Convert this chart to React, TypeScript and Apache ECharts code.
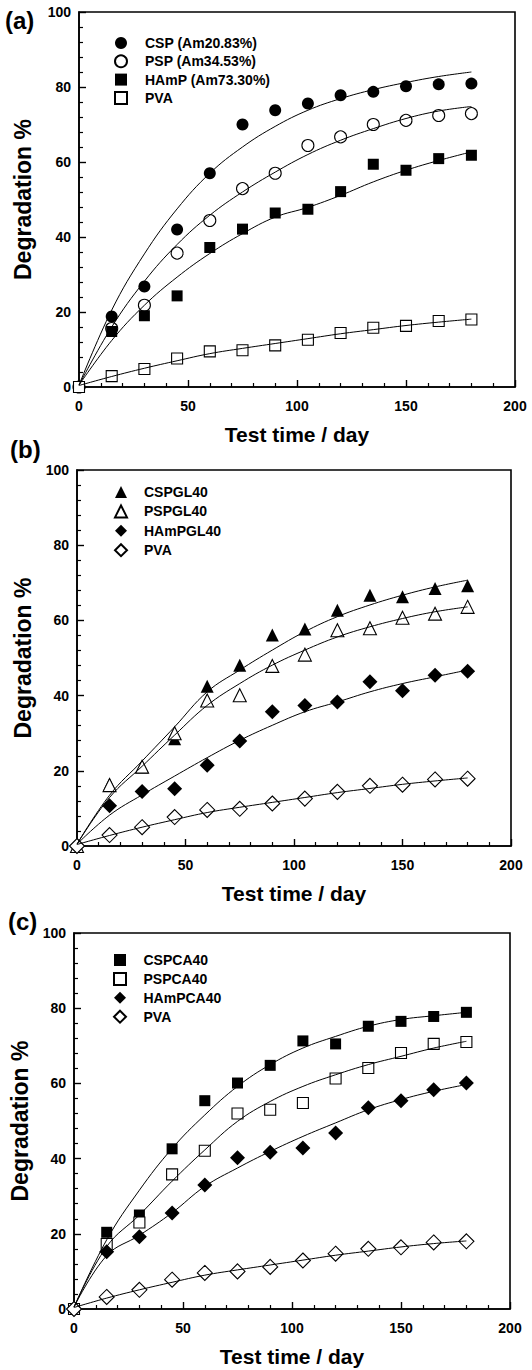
import React, { useEffect, useRef } from 'react';
import * as echarts from 'echarts';

const DAYS = [0, 15, 30, 45, 60, 75, 90, 105, 120, 135, 150, 165, 180];
const X_LABEL = 'Test time / day';
const Y_LABEL = 'Degradation %';
const PANEL_TAGS = ['(a)', '(b)', '(c)'];

// Panel (a)
const A_NAMES = ['CSP (Am20.83%)', 'PSP (Am34.53%)', 'HAmP (Am73.30%)', 'PVA'];
const A_CSP = [0, 18.8, 26.8, 42.0, 57.0, 70.0, 73.8, 75.6, 77.8, 78.7, 80.2, 80.7, 80.9];
const A_PSP = [0, 15.6, 21.8, 35.7, 44.4, 52.9, 57.0, 64.4, 66.7, 70.0, 71.1, 72.4, 72.9];
const A_HAMP = [0, 14.8, 19.0, 24.3, 37.2, 42.1, 46.4, 47.4, 52.1, 59.4, 57.8, 60.9, 61.8];
const A_PVA = [0, 2.9, 4.8, 7.6, 9.5, 9.8, 11.1, 12.6, 14.4, 15.8, 16.3, 17.6, 18.0];
const A_CSP_FIT = [0.5, 20.5, 35.5, 47.5, 57.0, 64.0, 69.5, 73.8, 76.9, 79.3, 81.2, 82.8, 84.0];
const A_PSP_FIT = [0.5, 16.0, 28.2, 38.0, 45.8, 52.0, 57.3, 62.0, 65.8, 68.9, 71.6, 73.6, 74.8];
const A_HAMP_FIT = [0.5, 12.4, 21.8, 29.3, 35.6, 40.9, 45.3, 47.9, 51.1, 54.7, 57.8, 60.4, 62.7];
const A_PVA_FIT = [0.4, 2.8, 5.0, 7.0, 8.9, 10.3, 11.6, 12.9, 14.2, 15.3, 16.4, 17.3, 18.1];

// Panel (b)
const B_NAMES = ['CSPGL40', 'PSPGL40', 'HAmPGL40', 'PVA'];
const B_CSPGL = [0, 16.4, 21.0, 28.5, 42.5, 48.1, 56.1, 57.7, 62.7, 66.7, 66.3, 68.5, 69.2];
const B_PSPGL = [0, 16.2, 21.1, 30.0, 38.7, 40.1, 47.9, 50.9, 57.4, 57.9, 60.7, 61.8, 63.6];
const B_HAMPGL = [0, 10.7, 14.5, 15.2, 21.5, 27.9, 35.7, 37.4, 38.3, 43.7, 41.3, 45.4, 46.5];
const B_PVA = [0, 2.9, 5.0, 7.7, 9.6, 9.9, 11.3, 12.6, 14.4, 16.0, 16.3, 17.7, 17.9];
const B_CSPGL_FIT = [0.5, 13.5, 22.6, 31.7, 41.0, 46.8, 52.1, 57.0, 61.0, 64.1, 66.7, 68.9, 70.7];
const B_PSPGL_FIT = [0.5, 12.9, 21.2, 29.5, 37.4, 43.2, 48.1, 52.1, 55.6, 58.3, 60.5, 62.3, 63.6];
const B_HAMPGL_FIT = [0.5, 8.2, 13.6, 18.6, 23.5, 28.1, 32.1, 35.7, 38.3, 41.0, 43.2, 45.0, 46.8];
const B_PVA_FIT = [0.4, 2.8, 5.0, 7.0, 8.9, 10.3, 11.6, 12.9, 14.2, 15.3, 16.4, 17.3, 18.1];

// Panel (c)
const C_NAMES = ['CSPCA40', 'PSPCA40', 'HAmPCA40', 'PVA'];
const C_CSPCA = [0, 20.4, 25.0, 42.6, 55.4, 60.1, 64.8, 71.3, 70.5, 75.2, 76.5, 77.8, 78.9];
const C_PSPCA = [0, 17.3, 23.0, 35.8, 42.1, 52.0, 53.0, 54.8, 61.3, 64.1, 68.1, 70.5, 71.0];
const C_HAMPCA = [0, 15.2, 19.2, 25.5, 33.0, 40.2, 41.7, 42.8, 46.8, 53.5, 55.4, 58.3, 60.1];
const C_PVA = [0, 3.2, 5.1, 7.8, 9.6, 10.0, 11.2, 12.9, 14.7, 16.0, 16.4, 17.7, 18.0];
const C_CSPCA_FIT = [0.5, 18.4, 31.6, 42.7, 51.6, 59.2, 65.0, 69.4, 72.5, 75.2, 77.0, 78.0, 78.9];
const C_PSPCA_FIT = [0.5, 16.6, 25.0, 34.0, 42.3, 49.9, 55.2, 59.2, 62.3, 65.0, 67.2, 69.4, 71.2];
const C_HAMPCA_FIT = [0.5, 14.2, 19.6, 25.6, 32.6, 37.5, 41.9, 45.9, 49.5, 53.0, 55.7, 57.9, 59.7];
const C_PVA_FIT = [0.4, 2.9, 5.1, 7.1, 9.0, 10.4, 11.7, 13.0, 14.3, 15.4, 16.5, 17.4, 18.1];

const FONT = '"Liberation Sans", Arial, Helvetica, sans-serif';

type Marker = { symbol: string; size: number; filled: boolean };
const M_CIRCLE_F: Marker = { symbol: 'circle', size: 12, filled: true };
const M_CIRCLE_O: Marker = { symbol: 'circle', size: 12, filled: false };
const M_RECT_F: Marker = { symbol: 'rect', size: 11, filled: true };
const M_RECT_O: Marker = { symbol: 'rect', size: 11, filled: false };
const M_TRI_F: Marker = { symbol: 'triangle', size: 13, filled: true };
const M_TRI_O: Marker = { symbol: 'triangle', size: 13, filled: false };
const M_DIA_F: Marker = { symbol: 'diamond', size: 15, filled: true };
const M_DIA_O: Marker = { symbol: 'diamond', size: 15, filled: false };

const PANELS = [
  {
    names: A_NAMES,
    values: [A_CSP, A_PSP, A_HAMP, A_PVA],
    fits: [A_CSP_FIT, A_PSP_FIT, A_HAMP_FIT, A_PVA_FIT],
    markers: [M_CIRCLE_F, M_CIRCLE_O, M_RECT_F, M_RECT_O],
    grid: { left: 79, right: 17, top: 12, height: 375 },
    legend: { left: 109, top: 31, gap: 4.3, pad: 13 },
    tag: { x: 5, y: 8 },
    yNameGap: 45,
  },
  {
    names: B_NAMES,
    values: [B_CSPGL, B_PSPGL, B_HAMPGL, B_PVA],
    fits: [B_CSPGL_FIT, B_PSPGL_FIT, B_HAMPGL_FIT, B_PVA_FIT],
    markers: [M_TRI_F, M_TRI_O, M_DIA_F, M_DIA_O],
    grid: { left: 77, right: 21, top: 470, height: 376 },
    legend: { left: 109, top: 480, gap: 5.4, pad: 12 },
    tag: { x: 10, y: 437 },
    yNameGap: 42,
  },
  {
    names: C_NAMES,
    values: [C_CSPCA, C_PSPCA, C_HAMPCA, C_PVA],
    fits: [C_CSPCA_FIT, C_PSPCA_FIT, C_HAMPCA_FIT, C_PVA_FIT],
    markers: [M_RECT_F, M_RECT_O, M_DIA_F, M_DIA_O],
    grid: { left: 74, right: 22, top: 933, height: 376 },
    legend: { left: 108, top: 948, gap: 4.9, pad: 12.5 },
    tag: { x: 8, y: 909 },
    yNameGap: 42,
  },
];

function buildOption() {
  const grids: any[] = [];
  const xAxes: any[] = [];
  const yAxes: any[] = [];
  const legends: any[] = [];
  const series: any[] = [];
  const graphics: any[] = [];

  PANELS.forEach((p, gi) => {
    grids.push({
      ...p.grid,
      show: true,
      borderColor: '#000',
      borderWidth: 1.6,
      backgroundColor: 'transparent',
    });
    const axisCommon = {
      gridIndex: gi,
      type: 'value',
      axisLine: { show: true, onZero: false, lineStyle: { color: '#000', width: 1.6 } },
      axisTick: { show: true, inside: true, length: 7, lineStyle: { color: '#000', width: 1.4 } },
      minorTick: { show: true, splitNumber: 5, length: 4, lineStyle: { color: '#000', width: 1.2 } },
      splitLine: { show: false },
      axisLabel: { color: '#000', fontFamily: FONT, fontWeight: 'bold', fontSize: 14 },
    };
    xAxes.push({
      ...axisCommon,
      min: 0,
      max: 200,
      interval: 50,
      name: X_LABEL,
      nameLocation: 'middle',
      nameGap: 37,
      nameTextStyle: {
        color: '#000',
        fontFamily: FONT,
        fontWeight: 'bold',
        fontSize: 21,
        verticalAlign: 'top',
      },
      axisLabel: { ...axisCommon.axisLabel, margin: 12 },
    });
    yAxes.push({
      ...axisCommon,
      min: 0,
      max: 100,
      interval: 20,
      name: Y_LABEL,
      nameLocation: 'middle',
      nameGap: p.yNameGap,
      nameRotate: 90,
      nameTextStyle: { color: '#000', fontFamily: FONT, fontWeight: 'bold', fontSize: 23 },
      axisLabel: { ...axisCommon.axisLabel, margin: 8 },
    });

    const legendNames = p.names.map((n) => `${n}#${gi}`);
    legends.push({
      data: legendNames,
      orient: 'vertical',
      left: p.legend.left,
      top: p.legend.top,
      itemWidth: 12,
      itemHeight: 12,
      itemGap: p.legend.gap,
      selectedMode: false,
      formatter: (n: string) => n.split('#')[0],
      textStyle: {
        color: '#000',
        fontFamily: FONT,
        fontWeight: 'bold',
        fontSize: 14,
        padding: [0, 0, 0, p.legend.pad],
      },
    });

    p.fits.forEach((fit) => {
      series.push({
        type: 'line',
        xAxisIndex: gi,
        yAxisIndex: gi,
        data: DAYS.map((d, i) => [d, fit[i]]),
        smooth: 0.4,
        showSymbol: false,
        symbol: 'none',
        lineStyle: { color: '#000', width: 1 },
        z: 4,
        silent: true,
      });
    });

    p.values.forEach((vals, si) => {
      const m = p.markers[si];
      series.push({
        type: 'scatter',
        name: legendNames[si],
        xAxisIndex: gi,
        yAxisIndex: gi,
        data: DAYS.map((d, i) => [d, vals[i]]),
        symbol: m.symbol,
        symbolSize: m.size,
        clip: false,
        itemStyle: {
          color: m.filled ? '#000' : '#fff',
          borderColor: '#000',
          borderWidth: m.filled ? 0 : 1.1,
          opacity: 1,
        },
        z: 3,
      });
    });

    graphics.push({
      type: 'text',
      x: p.tag.x,
      y: p.tag.y,
      style: {
        text: PANEL_TAGS[gi],
        fill: '#000',
        font: `bold 24px ${FONT}`,
        textVerticalAlign: 'top',
      },
    });
  });

  return {
    animation: false,
    backgroundColor: '#fff',
    grid: grids,
    xAxis: xAxes,
    yAxis: yAxes,
    legend: legends,
    series,
    graphic: graphics,
  };
}

export default function App() {
  const ref = useRef<HTMLDivElement>(null);
  useEffect(() => {
    if (!ref.current) return;
    const chart = echarts.init(ref.current, undefined, { renderer: 'svg' });
    chart.setOption(buildOption() as any);
    return () => chart.dispose();
  }, []);
  return (
    <div
      ref={ref}
      style={{ position: 'absolute', left: 0, top: 0, width: 532, height: 1370, background: '#fff' }}
    />
  );
}
